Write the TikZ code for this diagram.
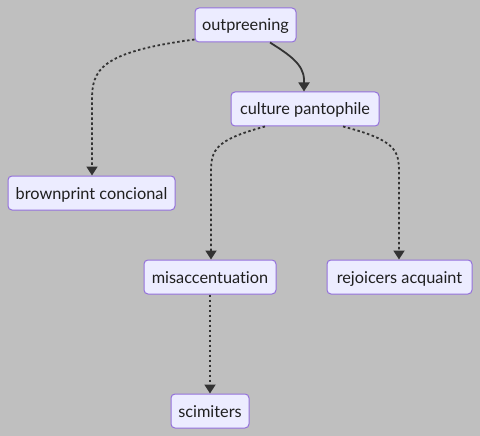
\documentclass[tikz,border=0pt]{standalone}
\usepackage{fontspec}
\setmainfont{Lato}[Ligatures={NoCommon}]
\usetikzlibrary{arrows.meta,calc}
\definecolor{bg}{RGB}{191,191,191}
\definecolor{nodefill}{HTML}{ECECFF}
\definecolor{nodeborder}{HTML}{9370DB}
\definecolor{edge}{HTML}{333333}
\begin{document}
\begin{tikzpicture}[x=1pt,y=-1pt,
  box/.style={draw=nodeborder,fill=nodefill,line width=1pt,rounded corners=4pt,
    minimum height=34pt,inner xsep=0pt,inner ysep=0pt,text height=12.5pt,text depth=0.5pt,
    text=black!88,font=\fontsize{16.3}{19}\selectfont},
  link/.style={draw=edge,line width=1.8pt,-{Triangle[length=9pt,width=11pt]}},
  dotlink/.style={link,dash pattern=on 2.5pt off 2.5pt}]
\fill[bg] (0,0) rectangle (480,436);
\useasboundingbox (0,0) rectangle (480,436);
\node[box,minimum width=101pt] (outp) at (245.5,25) {outpreening};
\node[box,minimum width=148pt] (cult) at (305,109) {culture pantophile};
\node[box,minimum width=167pt] (brown) at (91.5,193) {brownprint concional};
\node[box,minimum width=132pt] (misa) at (210,277) {misaccentuation};
\node[box,minimum width=145pt] (rejo) at (399.5,277) {rejoicers acquaint};
\node[box,minimum width=78pt] (scim) at (210,411) {scimiters};
\draw[dotlink] ($(outp.south west)+(0,-3)$) .. controls (100,52) and (92,70) .. (92,100) -- (brown.north -| 92,0);
\draw[link] ($(outp.south)+(24.5,0)$) .. controls (288,54) and (304,64) .. (304,80) -- (cult.north -| 304,0);
\draw[dotlink] ($(cult.south)+(-40,0)$) .. controls (215,140) and (211,150) .. (211,172) -- (misa.north -| 211,0);
\draw[dotlink] ($(cult.south)+(38,0)$) .. controls (395,140) and (399,150) .. (399,172) -- (rejo.north -| 399,0);
\draw[dotlink] (misa.south) -- (scim.north);
\end{tikzpicture}
\end{document}
